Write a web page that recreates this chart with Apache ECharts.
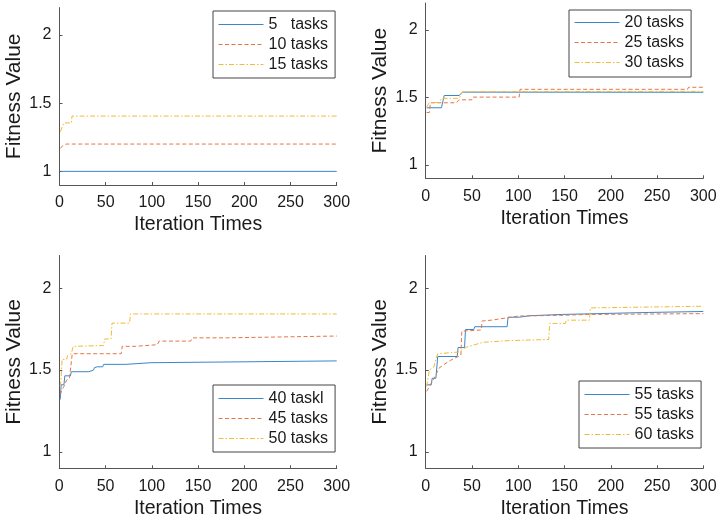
<!DOCTYPE html>
<html>
<head>
<meta charset="utf-8">
<title>Fitness convergence</title>
<script src="https://cdn.jsdelivr.net/npm/echarts@6/dist/echarts.min.js"></script>
<style>
  html, body { margin: 0; padding: 0; background: #fff; }
  #chart { width: 721px; height: 521px; }
</style>
</head>
<body>
<div id="chart"></div>
<script>
// Axis ticks shared by all four panels
const iterTicks = [0, 50, 100, 150, 200, 250, 300];
const fitTicks = [1, 1.5, 2];

// Legend labels per panel
const labelsA = ['5   tasks', '10 tasks', '15 tasks'];
const labelsB = ['20 tasks', '25 tasks', '30 tasks'];
const labelsC = ['40 taskl', '45 tasks', '50 tasks'];
const labelsD = ['55 tasks', '55 tasks', '60 tasks'];

// Best fitness per iteration, given as [iteration, fitness] breakpoints
const fit5 = [[1, 1.0], [300, 1.0]];
const fit10 = [[1, 1.168], [3, 1.185], [7, 1.2], [300, 1.2]];
const fit15 = [[1, 1.29], [2, 1.30], [3, 1.33], [5, 1.355], [13, 1.355], [13.5, 1.405], [300, 1.405]];

const fit20 = [[1, 1.423], [17, 1.423], [20, 1.514], [36, 1.514], [40, 1.539], [300, 1.538]];
const fit25 = [[1, 1.388], [4, 1.388], [5, 1.46], [33, 1.46], [36, 1.482], [50, 1.482], [51, 1.502],
               [101, 1.502], [102, 1.56], [283, 1.56], [284, 1.575], [300, 1.575]];
const fit30 = [[1, 1.43], [3, 1.43], [4, 1.462], [15, 1.462], [17, 1.493], [36, 1.493], [40, 1.542], [300, 1.545]];

const fit40 = [[1, 1.32], [2, 1.41], [5, 1.41], [6, 1.465], [12, 1.465], [13, 1.49], [32, 1.49], [34, 1.50],
               [37, 1.50], [38, 1.515], [41, 1.52], [47, 1.52], [48, 1.535], [72, 1.535], [73, 1.545],
               [99, 1.545], [100, 1.556], [300, 1.556]];
const fit45 = [[1, 1.35], [3, 1.38], [5, 1.40], [8, 1.44], [11, 1.45], [12, 1.50], [13, 1.50], [14, 1.60],
               [67, 1.60], [68, 1.645], [82, 1.645], [83, 1.652], [106, 1.655], [108, 1.677], [142, 1.677],
               [144, 1.697], [181, 1.697], [183, 1.708], [300, 1.708]];
const fit50 = [[1, 1.40], [2, 1.46], [3, 1.565], [8, 1.565], [9, 1.59], [13, 1.60], [15, 1.645], [48, 1.65],
               [49, 1.69], [56, 1.69], [57, 1.787], [76, 1.787], [77, 1.843], [300, 1.843]];

const fit55a = [[1, 1.41], [6, 1.41], [7, 1.45], [11, 1.45], [13, 1.583], [34, 1.583], [35, 1.638], [42, 1.638],
                [43, 1.748], [52, 1.748], [53, 1.765], [88, 1.765], [89, 1.823], [101, 1.823], [102, 1.832],
                [112, 1.832], [113, 1.84], [148, 1.84], [149, 1.852], [241, 1.852], [242, 1.858], [300, 1.858]];
const fit55b = [[1, 1.37], [4, 1.40], [8, 1.44], [11, 1.47], [14, 1.51], [20, 1.535], [27, 1.56], [34, 1.58],
                [38, 1.59], [39, 1.738], [60, 1.745], [61, 1.80], [71, 1.805], [72, 1.815], [95, 1.825],
                [100, 1.83], [150, 1.835], [175, 1.84], [177, 1.845], [300, 1.845]];
const fit60 = [[1, 1.40], [3, 1.40], [4, 1.50], [5, 1.51], [9, 1.52], [10, 1.55], [13, 1.60], [35, 1.61],
               [44, 1.64], [53, 1.655], [62, 1.67], [90, 1.68], [133, 1.687], [134, 1.785], [151, 1.785],
               [152, 1.805], [177, 1.805], [178, 1.88], [240, 1.885], [300, 1.89]];

const FONT = '"Liberation Sans", Arial, Helvetica, sans-serif';
const TEXT = '#1a1a1a';
const AXIS = '#555555';

// Line looks: solid blue, dashed orange, dash-dot yellow
const looks = [
  { color: '#3a87c8', type: 'solid' },
  { color: '#e57548', type: [4, 2.5] },
  { color: '#f0bb3a', type: [5, 2, 1.5, 2] }
];

// Plot area and legend box of each panel, in pixels
const panels = [
  { grid: { left: 59.5, top: 7.6, width: 277.2, height: 177.4 },
    legend: { left: 213, top: 11, padding: [5.5, 7, 5.5, 5] },
    labels: labelsA, data: [fit5, fit10, fit15] },
  { grid: { left: 425.7, top: 3, width: 277.6, height: 175.3 },
    legend: { left: 569, top: 10, padding: [4.5, 7, 6.5, 5] },
    labels: labelsB, data: [fit20, fit25, fit30] },
  { grid: { left: 59.3, top: 255.5, width: 277.4, height: 212.8 },
    legend: { left: 213, top: 385, padding: [5.5, 7, 5.5, 5] },
    labels: labelsC, data: [fit40, fit45, fit50] },
  { grid: { left: 425.7, top: 255.5, width: 277.6, height: 212.8 },
    legend: { left: 579, top: 381, padding: [5.5, 7, 5.5, 5] },
    labels: labelsD, data: [fit55a, fit55b, fit60] }
];

const grids = [], xAxes = [], yAxes = [], series = [], legends = [];

panels.forEach((p, i) => {
  grids.push(Object.assign({ outerBoundsMode: 'none', containLabel: false }, p.grid));

  xAxes.push({
    type: 'value', gridIndex: i, min: iterTicks[0], max: iterTicks[iterTicks.length - 1],
    interval: iterTicks[1] - iterTicks[0],
    name: 'Iteration Times', nameLocation: 'middle', nameGap: 30,
    nameTextStyle: { fontSize: 19.5, color: TEXT, fontFamily: FONT },
    axisLine: { show: true, lineStyle: { color: AXIS, width: 1 } },
    axisTick: { show: true, inside: true, length: 3, lineStyle: { color: AXIS } },
    axisLabel: { fontSize: 16, color: TEXT, fontFamily: FONT, margin: 10 },
    splitLine: { show: false }
  });

  yAxes.push({
    type: 'value', gridIndex: i, min: 0.9, max: 2.2,
    name: 'Fitness Value', nameLocation: 'middle', nameGap: 35, nameRotate: 90,
    nameTextStyle: { fontSize: 21, color: TEXT, fontFamily: FONT },
    axisLine: { show: true, lineStyle: { color: AXIS, width: 1 } },
    axisTick: { show: true, inside: true, length: 3, lineStyle: { color: AXIS }, customValues: fitTicks },
    axisLabel: { fontSize: 16, color: TEXT, fontFamily: FONT, margin: 8, customValues: fitTicks,
                 formatter: v => String(v) },
    splitLine: { show: false }
  });

  const ids = [];
  const legendItems = [];
  p.data.forEach((d, k) => {
    const id = 'p' + i + 's' + k;
    ids.push(id);
    legendItems.push({
      name: id,
      itemStyle: { color: 'rgba(0,0,0,0)', borderWidth: 0, opacity: 0 },
      lineStyle: { color: looks[k].color, width: 1, type: looks[k].type, opacity: 1 }
    });
    series.push({
      type: 'line', name: id, xAxisIndex: i, yAxisIndex: i, data: d,
      symbol: 'none', silent: true, animation: false,
      lineStyle: { color: looks[k].color, width: 1, type: looks[k].type },
      itemStyle: { color: looks[k].color },
      emphasis: { disabled: true }
    });
  });

  const labels = p.labels;
  legends.push({
    data: legendItems, left: p.legend.left, top: p.legend.top, orient: 'vertical',
    selectedMode: false, backgroundColor: '#ffffff', borderColor: '#444444', borderWidth: 1,
    borderRadius: 0, padding: p.legend.padding, itemWidth: 45, itemHeight: 16, itemGap: 4,
    textStyle: { fontSize: 16, color: TEXT, fontFamily: FONT, lineHeight: 16 },
    formatter: name => labels[ids.indexOf(name)]
  });
});

const chart = echarts.init(document.getElementById('chart'), null, { renderer: 'canvas' });
chart.setOption({
  animation: false,
  backgroundColor: '#ffffff',
  grid: grids, xAxis: xAxes, yAxis: yAxes, series: series, legend: legends,
  tooltip: { show: false }
});
</script>
</body>
</html>
